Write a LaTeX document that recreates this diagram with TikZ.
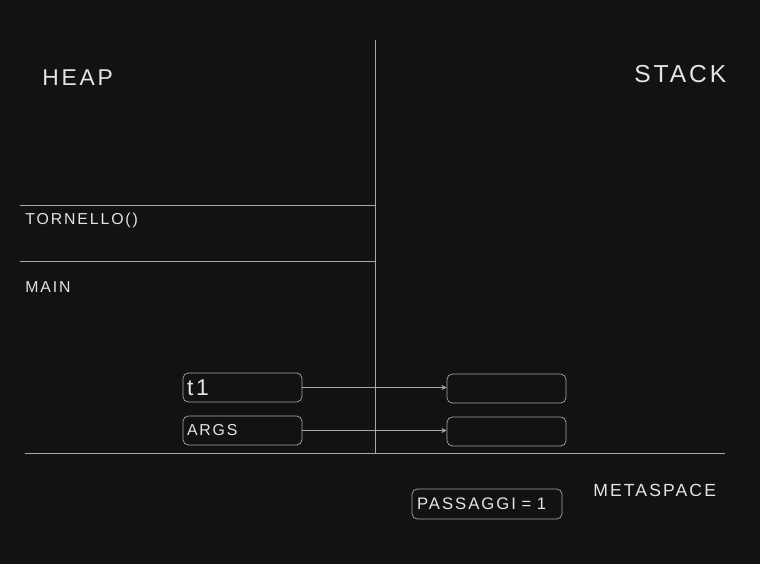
\documentclass[tikz,border=0pt]{standalone}
\usepackage{fontspec}
\setsansfont{Liberation Sans}[LetterSpace=12]
\usepackage{tikz}
\usetikzlibrary{positioning,arrows.meta}

\definecolor{board}{HTML}{121212}
\definecolor{chalk}{HTML}{E4E4E4}
\definecolor{rule}{HTML}{A8A8A8}

\tikzset{
    slot/.style={draw=rule, rounded corners=3pt, minimum width=119*0.02cm, minimum height=29*0.02cm, inner sep=0pt, text=chalk, align=left, text width=111*0.02cm},
    hand/.style={text=chalk, font=\sffamily, inner sep=0pt, anchor=west},
    link/.style={draw=rule, line width=0.5pt, -{Stealth[length=3pt,width=3pt]}}
}

\begin{document}
\begin{tikzpicture}[x=0.02cm, y=-0.02cm]
    % background
    \fill[board] (0,0) rectangle (760,564);
    \useasboundingbox (0,0) rectangle (760,564);

    % frame lines
    \draw[rule, line width=0.5pt] (375,40) -- (375,453);
    \draw[rule, line width=0.5pt] (20,205) -- (375,205);
    \draw[rule, line width=0.5pt] (20,261) -- (375,261);
    \draw[rule, line width=0.5pt] (25,453) -- (725,453);

    % titles
    \node[hand, font=\sffamily\fontsize{13}{13}\selectfont] (heap) at (42,78) {HEAP};
    \node[hand, font=\sffamily\fontsize{14}{14}\selectfont] (stack) at (634,74) {STACK};
    \node[hand, font=\sffamily\fontsize{9}{9}\selectfont] (tornello) at (25,220) {TORNELLO()};
    \node[hand, font=\sffamily\fontsize{9}{9}\selectfont] (main) at (25,287) {MAIN};
    \node[hand, font=\sffamily\fontsize{10}{10}\selectfont] (meta) at (593,490) {METASPACE};

    % stack frame variables
    \node[slot, font=\sffamily\fontsize{13}{13}\selectfont] (t1) at (242.5,387.5) {t1};
    \node[slot, font=\sffamily\fontsize{9}{9}\selectfont] (args) at (242.5,430.5) {ARGS};

    % heap objects
    \node[slot] (obj1) at (506.5,388.5) {};
    \node[slot] (obj2) at (506.5,431.5) {};

    % metaspace
    \node[slot, minimum width=150*0.02cm, minimum height=30*0.02cm, text width=140*0.02cm, font=\sffamily\fontsize{9.5}{10}\selectfont] (passaggi) at (487,504) {PASSAGGI = 1};

    % references
    \draw[link] (t1.east) -- (obj1.west |- t1.east);
    \draw[link] (args.east) -- (obj2.west |- args.east);
\end{tikzpicture}
\end{document}
